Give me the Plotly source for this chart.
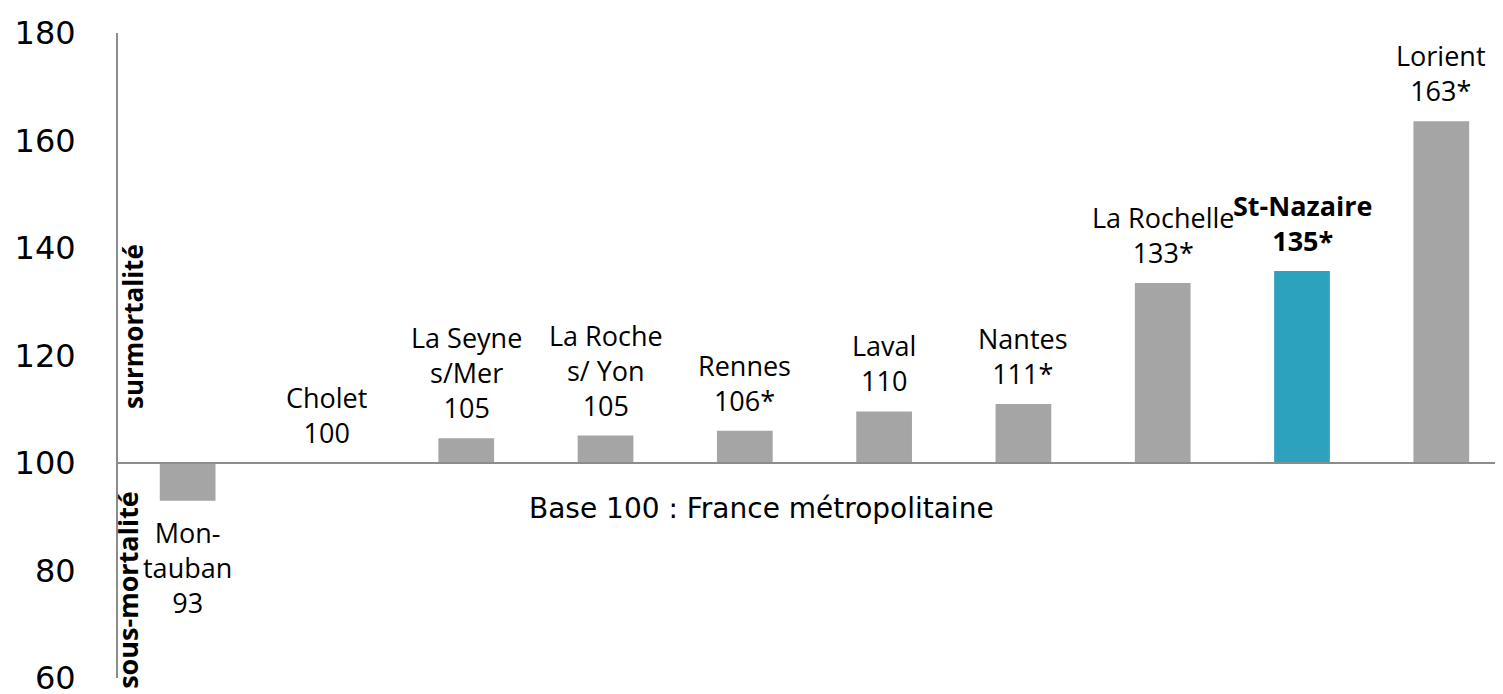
import plotly.graph_objects as go

cities = ["Montauban", "Cholet", "La Seyne s/Mer", "La Roche s/ Yon", "Rennes",
          "Laval", "Nantes", "La Rochelle", "St-Nazaire", "Lorient"]
values = [93.0, 100.0, 104.6, 105.1, 106.0, 109.6, 111.0, 133.5, 135.7, 163.6]
labels = ["Mon-<br>tauban<br>93", "Cholet<br>100", "La Seyne<br>s/Mer<br>105",
          "La Roche<br>s/ Yon<br>105", "Rennes<br>106*", "Laval<br>110", "Nantes<br>111*",
          "La Rochelle<br>133*", "<b>St-Nazaire<br>135*</b>", "Lorient<br>163*"]
highlight = "St-Nazaire"
base = 100
y_ticks = [60, 80, 100, 120, 140, 160, 180]

GRAY = "#A5A5A5"
BLUE = "#2CA2BF"
AXIS = "#8C8C8C"

colors = [BLUE if c == highlight else GRAY for c in cities]

fig = go.Figure()
fig.add_trace(go.Bar(
    x=cities, y=[v - base for v in values], base=base,
    marker=dict(color=colors, line=dict(width=0)),
    width=0.4, hoverinfo="skip", showlegend=False,
))

label_font = dict(family="Open Sans", size=27, color="black")
for c, v, t in zip(cities, values, labels):
    if v < base:
        fig.add_annotation(x=c, y=v, text=t, showarrow=False, yanchor="top",
                           yshift=-11, font=label_font)
    else:
        fig.add_annotation(x=c, y=v, text=t, showarrow=False, yanchor="bottom",
                           yshift=10, font=label_font)

fig.add_annotation(xref="paper", x=0.4645, y=91.6, text="Base 100 : France métropolitaine",
                   showarrow=False, font=dict(family="DejaVu Sans", size=28, color="black"))
fig.add_annotation(xref="paper", x=0, xshift=15, xanchor="center", y=125.3,
                   text="<b>surmortalité</b>", textangle=-90, showarrow=False,
                   font=dict(family="Open Sans", size=26, color="black"))
fig.add_annotation(xref="paper", x=0, xshift=10, xanchor="center", y=76.4,
                   text="<b>sous-mortalité</b>", textangle=-90, showarrow=False,
                   font=dict(family="Open Sans", size=27, color="black"))

# the page body adds an 8px offset, so the figure is 8px smaller and margins shifted
fig.update_layout(
    width=1495, height=686,
    margin=dict(l=110, r=0, t=25, b=16),
    paper_bgcolor="white", plot_bgcolor="white",
    xaxis=dict(range=[-0.5, 9.443], showticklabels=False, ticks="", showgrid=False,
               zeroline=False, showline=True, linecolor=AXIS, linewidth=2,
               anchor="free", position=(base - 60) / (180 - 60), automargin=False),
    yaxis=dict(range=[60, 180], tickvals=y_ticks, showgrid=False, zeroline=False,
               showline=True, linecolor=AXIS, linewidth=2, ticks="",
               ticklabelstandoff=34, automargin=False, ticklabeloverflow="allow",
               tickfont=dict(family="DejaVu Sans", size=32, color="black")),
)

fig.write_html("out.html")
